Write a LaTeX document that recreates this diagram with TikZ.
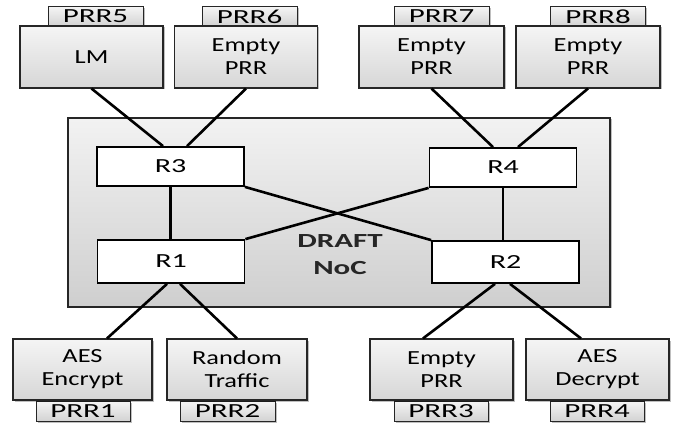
\documentclass[tikz,border=0pt]{standalone}
\usepackage{fontspec}
\setmainfont{Carlito}
\newfontfamily\boxfont[FakeStretch=1.32]{Carlito}
\newfontfamily\tabfont[FakeStretch=1.55]{Carlito}
\newfontfamily\rtfont[FakeStretch=1.5]{Carlito}
\newfontfamily\nocfont[FakeStretch=1.55]{Carlito}
\usetikzlibrary{shadows}
\begin{document}
\begin{tikzpicture}[x=1pt,y=-1pt,
  softshadow/.style={drop shadow={shadow xshift=1.5pt,shadow yshift=-1.5pt,opacity=0.25,fill=black}},
  prr/.style={draw=black!85,line width=1.1pt,top color=gray!8,bottom color=gray!32,
    minimum width=143pt,minimum height=62pt,inner sep=0pt,align=center,
    font=\boxfont\fontsize{20}{23}\selectfont,softshadow},
  tabbox/.style={draw=black!85,line width=1pt,top color=gray!8,bottom color=gray!35,
    minimum width=95pt,minimum height=20pt,inner sep=0pt,
    font=\tabfont\fontsize{20}{22}\selectfont,softshadow},
  router/.style={draw=black,line width=1.8pt,fill=white,minimum width=147pt,
    minimum height=39pt,inner sep=0pt,font=\rtfont\fontsize{20}{22}\selectfont},
  link/.style={line width=2.6pt,draw=black}]
\useasboundingbox (0,0) rectangle (682,427);

% network-on-chip frame
\node[draw=black!85,line width=1.1pt,top color=gray!10,bottom color=gray!38,
  minimum width=542pt,minimum height=189pt,inner sep=0pt,softshadow] (noc) at (339,212.5) {};
\node[font=\nocfont\bfseries\fontsize{20}{27}\selectfont,align=center,text=black!85] (noclabel) at (340,255) {DRAFT\\NoC};

% routers
\node[router] (r3) at (170.5,166.5) {R3};
\node[router] (r4) at (503,167.5) {R4};
\node[router,minimum height=43pt] (r1) at (171,261.5) {R1};
\node[router,minimum height=42pt] (r2) at (505.5,262) {R2};

% upper regions with their labels
\node[tabbox] (t5) at (95.5,16.5) {PRR5};
\node[tabbox] (t6) at (249.5,16.5) {PRR6};
\node[tabbox] (t7) at (441.5,16.5) {PRR7};
\node[tabbox] (t8) at (598,16.5) {PRR8};
\node[prr] (p5) at (91.5,57) {LM};
\node[prr] (p6) at (246,57) {Empty\\PRR};
\node[prr,minimum width=145pt] (p7) at (431.5,57) {Empty\\PRR};
\node[prr,minimum width=144pt] (p8) at (588,57) {Empty\\PRR};

% lower regions with their labels
\node[tabbox,minimum width=94pt] (t1) at (83,411) {PRR1};
\node[tabbox] (t2) at (227.5,411) {PRR2};
\node[tabbox,minimum width=94pt] (t3) at (441,411) {PRR3};
\node[tabbox,minimum width=94pt] (t4) at (597,411) {PRR4};
\node[prr,minimum width=139pt,minimum height=61pt] (p1) at (82.5,369.5) {AES\\Encrypt};
\node[prr,minimum width=140pt,minimum height=61pt] (p2) at (237,369.5) {Random\\Traffic};
\node[prr,minimum height=61pt] (p3) at (441.5,369.5) {Empty\\PRR};
\node[prr,minimum height=61pt] (p4) at (597.5,369.5) {AES\\Decrypt};

% links
\draw[link] (p5.south) -- ([xshift=-7.5pt]r3.north);
\draw[link] (p6.south) -- ([xshift=16.5pt]r3.north);
\draw[link] (p7.south) -- ([xshift=-10pt]r4.north);
\draw[link] (p8.south) -- ([xshift=15pt]r4.north);
\draw[link] (r3.south) -- (r3.south |- r1.north);
\draw[link] (r4.south) -- (r4.south |- r2.north);
\draw[link] (r3.south east) -- (r2.north west);
\draw[link] (r4.south west) -- (r1.north east);
\draw[link] ([xshift=-4pt]r1.south) -- ([xshift=24.5pt]p1.north);
\draw[link] ([xshift=9pt]r1.south) -- (p2.north);
\draw[link] ([xshift=-10.5pt]r2.south) -- ([xshift=-18.5pt]p3.north);
\draw[link] ([xshift=4.5pt]r2.south) -- ([xshift=-16.5pt]p4.north);
\end{tikzpicture}
\end{document}
